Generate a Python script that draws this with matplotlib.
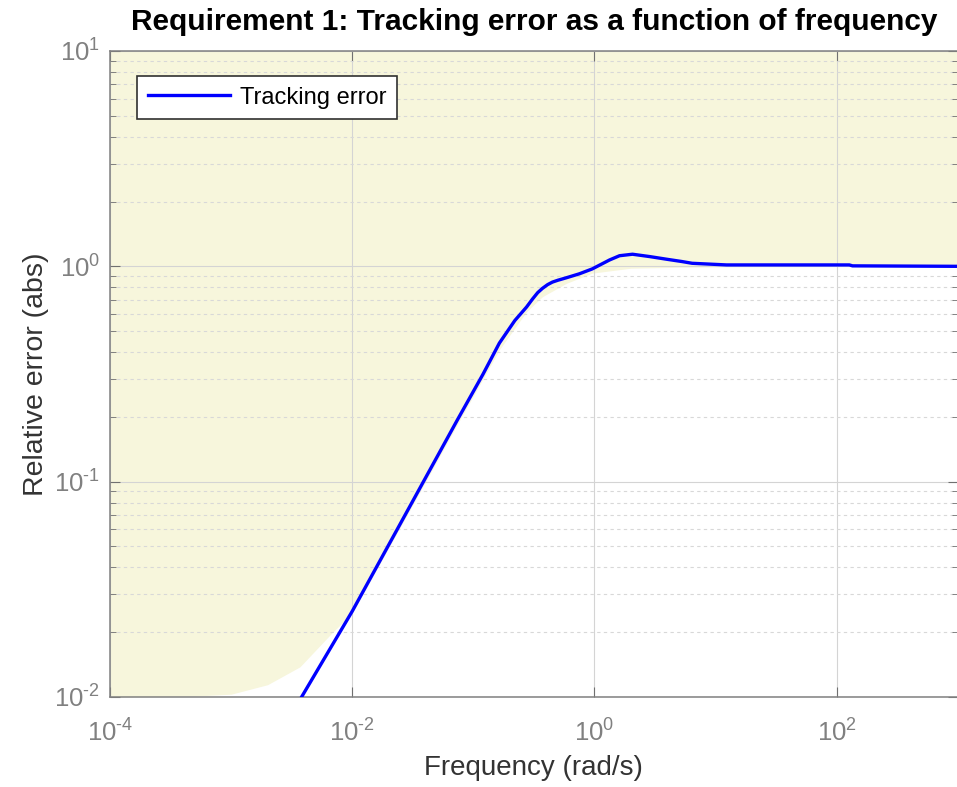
import matplotlib
matplotlib.use("Agg")
import matplotlib.pyplot as plt
import numpy as np
from matplotlib.ticker import LogLocator, FuncFormatter, NullFormatter

plt.rcParams['font.family'] = ['Liberation Sans', 'DejaVu Sans']
plt.rcParams['mathtext.fontset'] = 'custom'
plt.rcParams['mathtext.rm'] = 'Liberation Sans'
plt.rcParams['mathtext.it'] = 'Liberation Sans'
plt.rcParams['mathtext.default'] = 'regular'

# tracking error response
freq = [0.003, 0.0037, 0.01, 0.03, 0.074, 0.12, 0.164, 0.22, 0.275, 0.308, 0.34,
        0.372, 0.41, 0.45, 0.5, 0.587, 0.75, 0.96, 1.33, 1.61, 2.06, 2.85, 3.93,
        5.3, 6.4, 12.3, 127, 135, 1000]
err = [0.0079, 0.0097, 0.025, 0.077, 0.194, 0.315, 0.44, 0.56, 0.647, 0.705, 0.755,
       0.79, 0.822, 0.845, 0.862, 0.885, 0.923, 0.973, 1.07, 1.12, 1.138, 1.11, 1.079,
       1.052, 1.033, 1.015, 1.015, 1.005, 1.0]

# max error profile (lower edge of shaded region)
bound_f = [1e-4, 5e-4, 0.001, 0.002, 0.0037, 0.0069, 0.01, 0.03, 0.074, 0.164,
           0.275, 0.372, 0.587, 0.96, 2.0, 5.0, 10.0, 1000]
bound_v = [0.01, 0.0101, 0.0103, 0.0114, 0.0138, 0.020, 0.0245, 0.074, 0.185, 0.41,
           0.616, 0.723, 0.834, 0.93, 0.98, 0.99, 0.995, 1.0]

xticks = [1e-4, 1e-2, 1e0, 1e2]


def pow10(v, pos):
    e = int(round(np.log10(v)))
    if e < 0:
        return r'$10^{\text{-}%d}$' % (-e)
    return r'$10^{%d}$' % e


fig = plt.figure(figsize=(9.57, 7.87), dpi=100)
ax = fig.add_axes([0.1149, 0.1144, 0.886, 0.8208])

ax.fill_between(bound_f, bound_v, 10, color='#f7f6dc', linewidth=0, zorder=1)
ax.plot(freq, err, color='#0000ff', linewidth=2.4, label='Tracking error', zorder=3)

ax.set_xscale('log')
ax.set_yscale('log')
ax.set_xlim(1e-4, 1e3)
ax.set_ylim(1e-2, 1e1)

ax.set_xticks(xticks)
ax.xaxis.set_minor_locator(plt.NullLocator())
ax.yaxis.set_major_locator(LogLocator(base=10, subs=[1.0], numticks=10))
ax.yaxis.set_minor_locator(LogLocator(base=10, subs=range(2, 10), numticks=10))
ax.yaxis.set_minor_formatter(NullFormatter())
ax.xaxis.set_major_formatter(FuncFormatter(pow10))
ax.yaxis.set_major_formatter(FuncFormatter(pow10))

ax.set_axisbelow('line')
ax.grid(True, which='major', color='#d4d4d4', linewidth=0.8, linestyle='-')
ax.yaxis.grid(True, which='minor', color='#d8d8d8', linewidth=0.8, linestyle=(0, (3, 3)))

ax.tick_params(which='both', direction='in', top=True, right=True, colors='#707070',
               labelcolor='#808080', labelsize=18.5)
ax.tick_params(which='major', length=7)
ax.tick_params(which='minor', length=4)
ax.tick_params(axis='x', pad=16)
ax.tick_params(axis='y', pad=7)
for s in ax.spines.values():
    s.set_color('#808080')
    s.set_linewidth(1.1)

ax.set_xlabel('Frequency (rad/s)', fontsize=20, color='#333333')
ax.set_ylabel('Relative error (abs)', fontsize=20.5, color='#333333')
ax.xaxis.set_label_coords(0.5, -0.09)
ax.yaxis.set_label_coords(-0.072, 0.5)
ax.set_title('Requirement 1: Tracking error as a function of frequency',
             fontsize=21.5, fontweight='bold', pad=15)

leg = ax.legend(loc='upper left', bbox_to_anchor=(0.0319, 0.9613), borderaxespad=0,
                fontsize=17, handlelength=3.5, handletextpad=0.4, borderpad=0.45,
                frameon=True, fancybox=False, framealpha=1)
leg.get_frame().set_edgecolor('#303030')
leg.get_frame().set_linewidth(1.2)

fig.savefig('out.png', dpi=100)
